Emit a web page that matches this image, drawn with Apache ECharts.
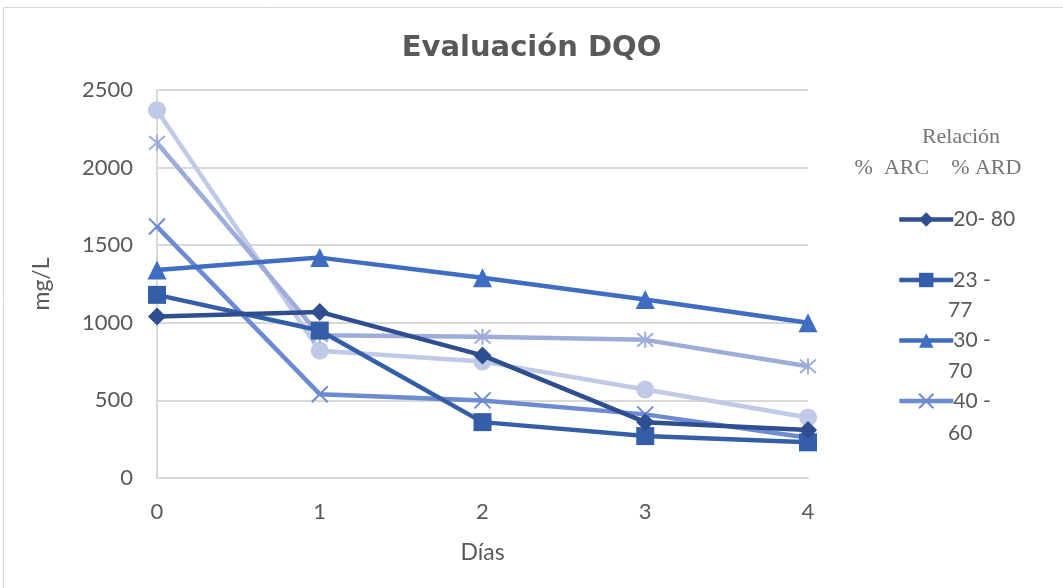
<!DOCTYPE html>
<html>
<head>
<meta charset="utf-8">
<script src="https://cdn.jsdelivr.net/npm/echarts@6/dist/echarts.min.js"></script>
<style>
    html, body { margin: 0; padding: 0; background: #fff; }
    #chart { width: 1063px; height: 588px; }
</style>
</head>
<body>
<div id="chart"></div>
<script>
    // datos
    var dias = ['0', '1', '2', '3', '4'];
    var nombres = ['20- 80', '23 - 77', '30 - 70', '40 - 60', 'Serie 5', 'Serie 6'];
    var s2080 = [1040, 1070, 790, 360, 310];
    var s2377 = [1180, 950, 360, 270, 230];
    var s3070 = [1340, 1420, 1290, 1150, 1000];
    var s4060 = [1620, 540, 500, 410, 260];
    var serie5 = [2160, 920, 910, 890, 720];
    var serie6 = [2370, 820, 750, 570, 390];
    var yTicks = [0, 500, 1000, 1500, 2000, 2500];

    var colores = ['#2e4e8f', '#345ea7', '#3e6dc2', '#6d8bd0', '#9dacd8', '#c0c9e5'];
    var xPath = 'path://M0,0L10,10M10,0L0,10';
    var starPath = 'path://M0,0L10,10M10,0L0,10M5,-1L5,11';

    var chart = echarts.init(document.getElementById('chart'));

    function linea(i, data, symbol, size, stroke) {
        return {
            name: nombres[i],
            type: 'line',
            data: data,
            symbol: symbol,
            symbolSize: size,
            z: 10 - i,
            lineStyle: { color: colores[i], width: 4.5 },
            itemStyle: stroke ? { color: 'none', borderColor: colores[i], borderWidth: 2 } : { color: colores[i] },
            emphasis: { disabled: true }
        };
    }

    // segunda línea de las etiquetas de la leyenda
    var segundas = ['77', '70', '60'];
    var graficos = [
        { type: 'rect', shape: { x: 3.5, y: 7.5, width: 1070, height: 600 }, style: { fill: 'none', stroke: '#d9d9d9', lineWidth: 1 }, silent: true },
        { type: 'text', x: 961, y: 137, style: { text: 'Relación', font: '22px "Liberation Serif"', fill: '#757575', align: 'center', verticalAlign: 'middle' } },
        { type: 'text', x: 938, y: 168, style: { text: '%  ARC    % ARD', font: '22px "Liberation Serif"', fill: '#757575', align: 'center', verticalAlign: 'middle' } }
    ];
    segundas.forEach(function (t, k) {
        graficos.push({ type: 'text', x: 948, y: 310 + 61.5 * k, style: { text: t, font: '21px Lato', fill: '#595959', verticalAlign: 'middle' } });
    });

    var option = {
        animation: false,
        backgroundColor: '#fff',
        title: {
            text: 'Evaluación DQO',
            left: 'center',
            top: 29,
            textStyle: { fontFamily: 'DejaVu Sans', fontWeight: 'bold', fontSize: 29, color: '#595959' }
        },
        legend: {
            data: nombres.slice(0, 4),
            orient: 'vertical',
            left: 892,
            top: 204,
            itemWidth: 54,
            itemHeight: 18,
            itemGap: 39.5,
            lineStyle: { width: 4.5 },
            formatter: function (n) { return n === '20- 80' ? n : n.split(' ').slice(0, 2).join(' '); },
            textStyle: { fontFamily: 'Lato', fontSize: 21, color: '#595959', padding: [0, 0, 0, -5] }
        },
        graphic: graficos,
        grid: { left: 157, right: 255, top: 90, bottom: 110 },
        xAxis: {
            type: 'category',
            data: dias,
            boundaryGap: false,
            name: 'Días',
            nameLocation: 'middle',
            nameGap: 63,
            nameTextStyle: { fontFamily: 'Lato', fontSize: 23, color: '#595959' },
            axisLine: { lineStyle: { color: '#d9d9d9', width: 2 } },
            axisTick: { show: false },
            axisLabel: { fontFamily: 'Lato', fontSize: 22, color: '#595959', margin: 23 },
            splitLine: { show: false }
        },
        yAxis: {
            type: 'value',
            min: yTicks[0],
            max: yTicks[yTicks.length - 1],
            interval: 500,
            name: 'mg/L',
            nameLocation: 'middle',
            nameGap: 104,
            nameTextStyle: { fontFamily: 'Lato', fontSize: 23, color: '#595959' },
            axisLine: { show: true, lineStyle: { color: '#d9d9d9', width: 2 } },
            axisTick: { show: false },
            axisLabel: { fontFamily: 'Lato', fontSize: 22, color: '#595959', margin: 24, formatter: function (v) { return String(v); } },
            splitLine: { lineStyle: { color: '#d9d9d9', width: 2 } }
        },
        series: [
            linea(0, s2080, 'diamond', 18, false),
            linea(1, s2377, 'rect', 18, false),
            linea(2, s3070, 'triangle', 19, false),
            linea(3, s4060, xPath, 16, true),
            linea(4, serie5, starPath, 16, true),
            linea(5, serie6, 'circle', 18, false)
        ]
    };
    chart.setOption(option);
</script>
</body>
</html>
